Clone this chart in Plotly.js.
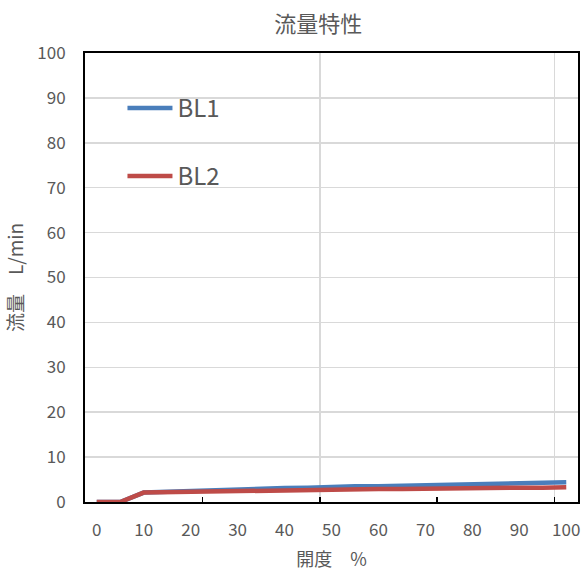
<!DOCTYPE html>
<html>
<head>
<meta charset="utf-8">
<script src="https://cdn.plot.ly/plotly-3.0.1.min.js"></script>
<style>
html,body{margin:0;padding:0;background:#fff;}
#chart{width:584px;height:571px;}
</style>
</head>
<body>
<div id="chart"></div>
<script>
// Opening (%) categories
var openings = [0, 5, 10, 15, 20, 25, 30, 35, 40, 45, 50, 55, 60, 65, 70, 75, 80, 85, 90, 95, 100];
// Flow (L/min)
var bl1 = [0, 0, 2.1, 2.3, 2.5, 2.6, 2.8, 2.9, 3.1, 3.2, 3.4, 3.5, 3.5, 3.6, 3.7, 3.8, 3.9, 4.0, 4.1, 4.3, 4.4];
var bl2 = [0, 0, 2.1, 2.2, 2.3, 2.4, 2.4, 2.5, 2.6, 2.7, 2.8, 2.8, 2.9, 2.9, 3.0, 3.0, 3.1, 3.1, 3.2, 3.2, 3.3];
var seriesNames = ["BL1", "BL2"];
var xTickLabels = [0, 10, 20, 30, 40, 50, 60, 70, 80, 90, 100];
var yTickLabels = [0, 10, 20, 30, 40, 50, 60, 70, 80, 90, 100];

var gray = "#595959";
var font = "'Noto Sans CJK JP', 'Noto Sans', sans-serif";

var traces = [
  {x: openings, y: bl1, name: seriesNames[0], mode: "lines", legendgroup: "a",
   line: {color: "#4A7EBB", width: 4.5}},
  {x: openings, y: bl2, name: seriesNames[1], mode: "lines", legendgroup: "b",
   line: {color: "#BE4B48", width: 4.5}},
  {x: [], y: [], xaxis: "x2", showlegend: false, hoverinfo: "skip", mode: "lines"}
];

var layout = {
  width: 584, height: 571,
  margin: {l: 85, r: 6, t: 53, b: 69},
  paper_bgcolor: "#fff", plot_bgcolor: "#fff",
  font: {family: font, color: gray, size: 17},
  title: {text: "流量特性", font: {size: 22, color: gray, family: font},
          x: 0.473, xref: "paper", xanchor: "center", y: 0.958, yref: "container", yanchor: "middle"},
  showlegend: true,
  legend: {x: 0.076, y: 0.927, xanchor: "left", yanchor: "top", bgcolor: "rgba(0,0,0,0)",
           itemwidth: 45,
           font: {size: 24, color: gray, family: font}, tracegroupgap: 34, traceorder: "grouped"},
  xaxis: {range: [-2.5, 102.5], tickmode: "array", tickvals: xTickLabels,
          showgrid: false, zeroline: false, ticks: "", ticklabelstandoff: 12,
          showline: true, mirror: true, linecolor: "#000", linewidth: 2,
          tickfont: {size: 17, color: gray},
          title: {text: "開度　%", font: {size: 18, color: gray}, standoff: 14}},
  xaxis2: {overlaying: "x", side: "bottom", range: [-2.5, 102.5],
           tick0: -2.5, dtick: 50, showticklabels: false, ticks: "inside", ticklen: 5,
           tickcolor: "#000", tickwidth: 1.5,
           showgrid: true, gridcolor: "#d9d9d9", gridwidth: 1.5, zeroline: false,
           minor: {dtick: 25, tick0: -2.5, ticks: "inside", ticklen: 5, tickcolor: "#000", tickwidth: 1.5, showgrid: false},
           showline: false},
  yaxis: {range: [0, 100], tickmode: "array", tickvals: yTickLabels,
          showgrid: true, gridcolor: "#d9d9d9", gridwidth: 1.5, zeroline: false,
          ticks: "", ticklabelstandoff: 14,
          showline: true, mirror: true, linecolor: "#000", linewidth: 2,
          tickfont: {size: 17, color: gray},
          title: {text: "流量　L/min", font: {size: 19, color: gray}, standoff: 9}}
};

Plotly.newPlot("chart", traces, layout, {displayModeBar: false, staticPlot: true});
</script>
</body>
</html>
